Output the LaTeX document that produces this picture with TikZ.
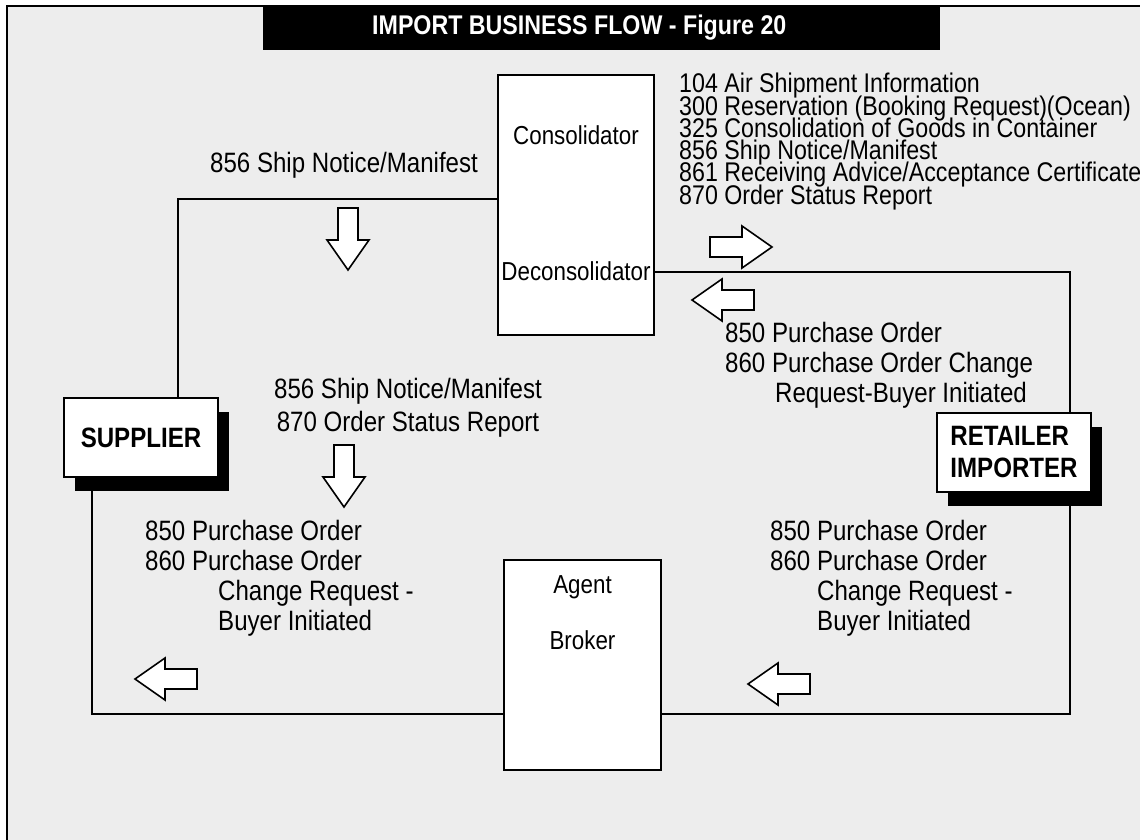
\documentclass[tikz,border=0pt]{standalone}
\usepackage{fontspec}
\setmainfont{Liberation Sans}[FakeStretch=0.86]
\definecolor{panelgray}{RGB}{237,237,237}
\usetikzlibrary{shadows, backgrounds, positioning}
\newcommand{\tightleading}{\lineskiplimit=-100pt\relax}

\begin{document}
\begin{tikzpicture}[x=1pt, y=-1pt,
    lbl/.style={inner sep=0pt, align=left, font=\fontsize{28}{30}\selectfont},
    partybox/.style={draw, line width=1.2pt, fill=white, minimum width=154pt, minimum height=79pt,
      align=left, font=\bfseries\fontsize{28}{32}\selectfont,
      drop shadow={shadow xshift=11pt, shadow yshift=-14pt, fill=black, opacity=1}},
    agentbox/.style={draw, line width=1.2pt, fill=white},
    boxtxt/.style={inner sep=0pt, font=\fontsize{26}{28}\selectfont},
    link/.style={line width=2pt},
    blockarr/.pic={\draw[line width=1.6pt, fill=white] (0,0) -- (30,-21) -- (30,-10) -- (62,-10)
      -- (62,10) -- (30,10) -- (30,21) -- cycle;}]
  \useasboundingbox (0,0) rectangle (1140,840);
  \begin{scope}[on background layer]
    \fill[white] (0,0) rectangle (1140,840);
    \draw[line width=2pt, fill=panelgray] (7,6) rectangle (1170,870);
  \end{scope}
  \fill (263,6) rectangle (940,50);
  \node[anchor=west, inner sep=0pt, text=white, font=\bfseries\fontsize{27}{30}\selectfont] (title)
    at (372,28) {IMPORT BUSINESS FLOW - Figure 20};

  % trading partners and intermediaries
  \node[partybox] (sup) at (141,437.5) {SUPPLIER};
  \node[partybox] (ret) at (1014,452.5) {RETAILER\\IMPORTER};
  \node[agentbox, minimum width=156pt, minimum height=260pt] (cons) at (576,205) {};
  \node[agentbox, minimum width=157pt, minimum height=210pt] (agent) at (582.5,665) {};
  \node[boxtxt] (consname) at (576,135) {Consolidator};
  \node[boxtxt] (deconsname) at (576,271) {Deconsolidator};
  \node[boxtxt] (agentname) at (582.5,587) {Agent};
  \node[boxtxt] (brokername) at (582.5,640) {Broker};

  % flow lines
  \coordinate (tl) at (178,199);
  \coordinate (tr) at (1070,272);
  \coordinate (br) at (1070,714);
  \coordinate (bl) at (92,714);
  \begin{scope}[on background layer]
    \draw[link] (sup.north -| tl) -- (tl) -- (tl -| cons.west);
    \draw[link] (tr -| cons.east) -- (tr) -- (tr |- ret.north);
    \draw[link] (ret.south -| br) -- (br) -- (br -| agent.east);
    \draw[link] (sup.south -| bl) -- (bl) -- (bl -| agent.west);
  \end{scope}

  % transaction sets
  \node[lbl, anchor=west] (shipnote) at (210,165) {856 Ship Notice/Manifest};
  \node[lbl, anchor=north west, font=\fontsize{27}{22.3}\selectfont\tightleading] (consmsgs) at (679,73)
    {104 Air Shipment Information\\300 Reservation (Booking Request)(Ocean)\\
     325 Consolidation of Goods in Container\\856 Ship Notice/Manifest\\
     861 Receiving Advice/Acceptance Certificate\\870 Order Status Report};
  \node[lbl, anchor=north west] (decmsgs) at (725,322)
    {850 Purchase Order\\860 Purchase Order Change\\\hspace*{50pt}Request-Buyer Initiated};
  \node[lbl, anchor=north, align=center, font=\fontsize{28}{33}\selectfont] (supmsgs) at (408,378)
    {856 Ship Notice/Manifest\\870 Order Status Report};
  \node[lbl, anchor=north west] (supord) at (145,520)
    {850 Purchase Order\\860 Purchase Order\\\hspace*{73pt}Change Request -\\\hspace*{73pt}Buyer Initiated};
  \node[lbl, anchor=north west] (retord) at (770,520)
    {850 Purchase Order\\860 Purchase Order\\\hspace*{47pt}Change Request -\\\hspace*{47pt}Buyer Initiated};

  % direction arrows
  \pic[rotate=90] at (348,270) {blockarr};
  \pic[rotate=90] at (344,507) {blockarr};
  \pic[xscale=-1] at (772,247) {blockarr};
  \pic at (692,300) {blockarr};
  \pic at (135,679) {blockarr};
  \pic at (748,684) {blockarr};
\end{tikzpicture}
\end{document}
